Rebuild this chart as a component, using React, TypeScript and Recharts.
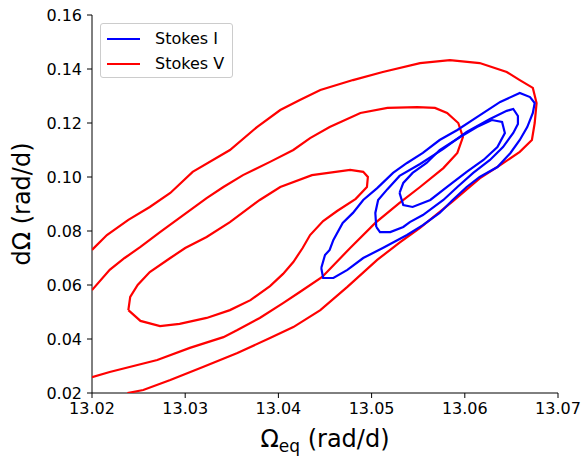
import { Label, Scatter, ScatterChart, XAxis, YAxis } from "recharts";

// contour paths as [omega_eq, dOmega]
const stokesVOuter = [
  [13.02, 0.073], [13.0216, 0.0785], [13.0239, 0.0841], [13.0262, 0.0889], [13.0284, 0.0941],
  [13.0308, 0.1019], [13.0348, 0.11], [13.0377, 0.1185], [13.0402, 0.1248], [13.0423, 0.1285],
  [13.0445, 0.1322], [13.048, 0.1359], [13.0512, 0.1389], [13.0552, 0.1422], [13.0584, 0.1433],
  [13.0616, 0.1422], [13.0645, 0.1389], [13.0659, 0.1359], [13.0673, 0.133], [13.0677, 0.1274],
  [13.0675, 0.12], [13.0672, 0.1137], [13.0659, 0.1093], [13.0638, 0.1044], [13.0616, 0.0995],
  [13.0587, 0.091], [13.0552, 0.0812], [13.053, 0.0757], [13.0506, 0.0693], [13.0474, 0.0593],
  [13.0445, 0.0507], [13.0416, 0.0444], [13.0391, 0.0404], [13.0356, 0.0348], [13.0319, 0.0296],
  [13.0284, 0.0248], [13.0255, 0.0211], [13.0238, 0.02],
];

const stokesVMiddle = [
  [13.02, 0.0581], [13.0219, 0.0656], [13.0235, 0.07], [13.0252, 0.0741], [13.0273, 0.0796],
  [13.0298, 0.0859], [13.0323, 0.0922], [13.0341, 0.0963], [13.0362, 0.1007], [13.0391, 0.1056],
  [13.0416, 0.11], [13.0434, 0.1144], [13.0455, 0.1185], [13.0488, 0.1237], [13.0517, 0.1256],
  [13.0549, 0.1259], [13.0568, 0.1256], [13.0581, 0.1237], [13.0593, 0.12], [13.0598, 0.1148],
  [13.0592, 0.1089], [13.0577, 0.1033], [13.0552, 0.0963], [13.053, 0.0904], [13.0504, 0.083],
  [13.0477, 0.0737], [13.0447, 0.063], [13.0423, 0.0574], [13.0405, 0.0533], [13.038, 0.0478],
  [13.0356, 0.0433], [13.0341, 0.0407], [13.0305, 0.0367], [13.027, 0.0322], [13.0219, 0.0278],
  [13.02, 0.0259],
];

const stokesVInner = [
  [13.0239, 0.0507], [13.0241, 0.0556], [13.0249, 0.06], [13.0262, 0.0648], [13.0284, 0.07],
  [13.03, 0.0737], [13.0323, 0.0778], [13.0348, 0.0833], [13.038, 0.0915], [13.0402, 0.0963],
  [13.0436, 0.1007], [13.0477, 0.1026], [13.0491, 0.1019], [13.0496, 0.1], [13.0495, 0.0963],
  [13.0483, 0.0919], [13.0463, 0.0874], [13.0448, 0.0837], [13.0434, 0.0785], [13.0426, 0.0737],
  [13.0416, 0.0685], [13.0405, 0.0641], [13.0391, 0.0596], [13.037, 0.0544], [13.0348, 0.0507],
  [13.0323, 0.0478], [13.0294, 0.0456], [13.0273, 0.0448], [13.0252, 0.0467], [13.0239, 0.0507],
];

const stokesIOuter = [
  [13.0446, 0.0663], [13.045, 0.0711], [13.0455, 0.073], [13.0459, 0.0767], [13.0469, 0.083],
  [13.048, 0.0867], [13.0491, 0.0915], [13.0506, 0.0959], [13.0523, 0.1015], [13.0538, 0.1052],
  [13.0555, 0.1089], [13.0573, 0.1137], [13.0592, 0.1174], [13.0613, 0.1222], [13.0638, 0.1278],
  [13.0659, 0.1311], [13.067, 0.1296], [13.0675, 0.1274], [13.0673, 0.1237], [13.0667, 0.1185],
  [13.0659, 0.1137], [13.0649, 0.1089], [13.0635, 0.1037], [13.0616, 0.1], [13.0602, 0.0963],
  [13.0587, 0.0915], [13.0573, 0.0867], [13.0555, 0.0822], [13.0538, 0.0785], [13.0512, 0.0737],
  [13.0491, 0.07], [13.0474, 0.0656], [13.0459, 0.0626], [13.0448, 0.0626], [13.0446, 0.0663],
];

const stokesIMiddle = [
  [13.0505, 0.0815], [13.0504, 0.0867], [13.0507, 0.0915], [13.0517, 0.0955], [13.053, 0.1004],
  [13.0552, 0.1048], [13.0577, 0.1104], [13.0602, 0.1167], [13.0627, 0.1215], [13.0645, 0.1245],
  [13.0652, 0.1252], [13.0657, 0.1226], [13.0657, 0.1196], [13.0652, 0.1163], [13.0641, 0.1111],
  [13.0627, 0.1063], [13.0609, 0.1015], [13.0592, 0.0963], [13.0577, 0.0915], [13.0555, 0.0859],
  [13.0541, 0.0833], [13.0534, 0.0815], [13.052, 0.0796], [13.0509, 0.0796], [13.0505, 0.0815],
];

const stokesIInner = [
  [13.053, 0.0941], [13.0534, 0.0896], [13.0544, 0.0889], [13.0563, 0.0915], [13.0581, 0.0963],
  [13.0602, 0.1019], [13.062, 0.1063], [13.0635, 0.1111], [13.0643, 0.1163], [13.064, 0.1204],
  [13.0629, 0.1211], [13.0613, 0.1185], [13.0595, 0.1148], [13.0573, 0.11], [13.0559, 0.1052],
  [13.0544, 0.1015], [13.0534, 0.0978], [13.053, 0.0941],
];

const xTicks = [13.02, 13.03, 13.04, 13.05, 13.06, 13.07];
const yTicks = [0.02, 0.04, 0.06, 0.08, 0.1, 0.12, 0.14, 0.16];

const legendItems = [
  { label: "Stokes I", color: "#0000ff" },
  { label: "Stokes V", color: "#ff0000" },
];

const series = [
  { name: "V1", color: "#ff0000", pts: stokesVOuter },
  { name: "V2", color: "#ff0000", pts: stokesVMiddle },
  { name: "V3", color: "#ff0000", pts: stokesVInner },
  { name: "I1", color: "#0000ff", pts: stokesIOuter },
  { name: "I2", color: "#0000ff", pts: stokesIMiddle },
  { name: "I3", color: "#0000ff", pts: stokesIInner },
];

const FONT = "DejaVu Sans, sans-serif";

function LegendBox() {
  return (
    <div
      style={{
        position: "absolute",
        left: 100,
        top: 23,
        width: 133,
        height: 55,
        boxSizing: "border-box",
        border: "1px solid #cccccc",
        borderRadius: 3,
        background: "rgba(255,255,255,0.8)",
        fontFamily: FONT,
        fontSize: 16,
        color: "#000",
        padding: "2px 0 0 6px",
      }}
    >
      {legendItems.map((it) => (
        <div key={it.label} style={{ display: "flex", alignItems: "center", height: 25 }}>
          <span style={{ width: 33, height: 2, background: it.color, display: "inline-block" }} />
          <span style={{ marginLeft: 15, lineHeight: "25px" }}>{it.label}</span>
        </div>
      ))}
    </div>
  );
}

export default function App() {
  return (
    <div style={{ position: "absolute", left: 0, top: 0, background: "#fff" }}>
      <ScatterChart width={582} height={456} margin={{ top: 15, right: 24, bottom: 0, left: 0 }}>
        <XAxis
          type="number"
          dataKey="x"
          domain={[13.02, 13.07]}
          ticks={xTicks}
          allowDataOverflow
          height={63}
          tickFormatter={(v) => Number(v).toFixed(2)}
          tick={{ fill: "#000", fontSize: 16, fontFamily: FONT }}
          tickSize={5}
          tickMargin={5}
          axisLine={{ stroke: "#000", strokeWidth: 1 }}
          tickLine={{ stroke: "#000" }}
        >
          <Label
            content={({ viewBox }: any) => (
              <text
                x={viewBox.x + viewBox.width / 2}
                y={viewBox.y + 54}
                textAnchor="middle"
                fontFamily={FONT}
                fontSize={24}
                fill="#000"
              >
                Ω<tspan fontSize={17} dy={5}>eq</tspan>
                <tspan dy={-5}> (rad/d)</tspan>
              </text>
            )}
          />
        </XAxis>
        <YAxis
          type="number"
          dataKey="y"
          domain={[0.02, 0.16]}
          ticks={yTicks}
          allowDataOverflow
          width={92}
          tickFormatter={(v) => Number(v).toFixed(2)}
          tick={{ fill: "#000", fontSize: 16, fontFamily: FONT }}
          tickSize={5}
          tickMargin={5}
          axisLine={{ stroke: "#000", strokeWidth: 1 }}
          tickLine={{ stroke: "#000" }}
        >
          <Label
            content={({ viewBox }: any) => {
              const cx = 30;
              const cy = viewBox.y + viewBox.height / 2;
              return (
                <text
                  x={cx}
                  y={cy}
                  textAnchor="middle"
                  transform={`rotate(-90, ${cx}, ${cy})`}
                  fontFamily={FONT}
                  fontSize={24}
                  fill="#000"
                >
                  dΩ (rad/d)
                </text>
              );
            }}
          />
        </YAxis>
        <XAxis
          xAxisId="top"
          orientation="top"
          type="number"
          domain={[13.02, 13.07]}
          height={0}
          tick={false}
          tickLine={false}
          axisLine={{ stroke: "#000", strokeWidth: 1 }}
        />
        <YAxis
          yAxisId="right"
          orientation="right"
          type="number"
          domain={[0.02, 0.16]}
          width={0}
          tick={false}
          tickLine={false}
          axisLine={{ stroke: "#000", strokeWidth: 1 }}
        />
        {series.map((s) => (
          <Scatter
            key={s.name}
            name={s.name}
            data={s.pts.map(([x, y]) => ({ x, y }))}
            line={{ stroke: s.color, strokeWidth: 2.2 }}
            lineType="joint"
            shape={() => <g />}
            fill={s.color}
            isAnimationActive={false}
          />
        ))}
      </ScatterChart>
      <LegendBox />
    </div>
  );
}
